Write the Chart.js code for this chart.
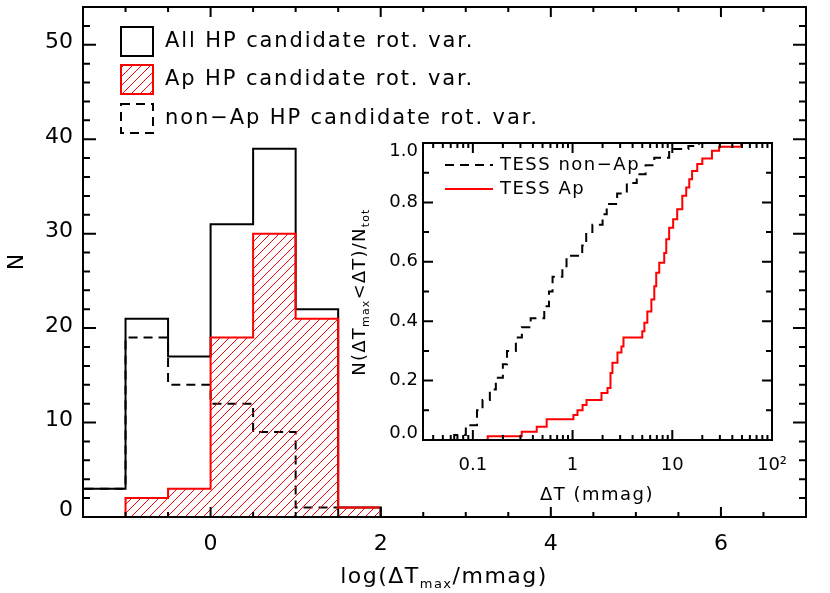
<!DOCTYPE html>
<html>
<head>
<meta charset="utf-8">
<script src="https://cdn.jsdelivr.net/npm/chart.js@4.4.1/dist/chart.umd.min.js"></script>
<style>
html, body { margin: 0; padding: 0; background: #fff; }
#wrap { position: relative; width: 830px; height: 593px; }
#wrap canvas { position: absolute; left: 0; top: 0; }
</style>
</head>
<body>
<div id="wrap">
  <canvas id="mainChart" width="830" height="593"></canvas>
  <canvas id="insetChart" width="830" height="593"></canvas>
</div>
<script>
// --- Histogram data: log(dT_max/mmag), bins of 0.5 ---
const binEdges = [-1.5, -1.0, -0.5, 0.0, 0.5, 1.0, 1.5, 2.0];
const allCounts = [3, 21, 17, 31, 39, 22, 1];
const apCounts = [0, 2, 3, 19, 30, 21, 1];
const nonApCounts = [3, 19, 14, 12, 9, 1, 0];
const xTicksMain = [0, 2, 4, 6];
const yTicksMain = [0, 10, 20, 30, 40, 50];

// --- Inset: cumulative fractions vs dT (mmag) ---
const nonApDT = [0.065, 0.085, 0.11, 0.125, 0.148, 0.17, 0.20, 0.22, 0.27, 0.31, 0.38, 0.52, 0.58, 0.63,
                 0.79, 0.87, 1.25, 1.37, 1.58, 2.0, 2.2, 2.8, 3.5, 4.4, 5.4, 6.6, 9.3, 14.5, 18.5];
const nonApFrac = [0.017, 0.05, 0.10, 0.135, 0.17, 0.21, 0.255, 0.30, 0.345, 0.38, 0.41, 0.45, 0.50, 0.55,
                   0.585, 0.62, 0.655, 0.70, 0.725, 0.76, 0.795, 0.83, 0.865, 0.895, 0.925, 0.95, 0.98, 0.99, 1.0];
const apDT = [0.141, 0.309, 0.437, 0.55, 1.02, 1.12, 1.26, 1.38, 1.95, 2.24, 2.40, 2.51, 2.82, 3.09, 3.24,
              5.0, 5.25, 5.62, 6.17, 6.6, 6.9, 7.4, 8.3, 8.7, 9.3, 10.2, 11.2, 12.6, 13.8, 14.8, 15.8,
              17.8, 20, 25, 29.5, 49];
const apFrac = [0.013, 0.028, 0.045, 0.07, 0.084, 0.10, 0.118, 0.135, 0.158, 0.175, 0.226, 0.26, 0.295, 0.315, 0.345,
                0.366, 0.395, 0.433, 0.473, 0.518, 0.563, 0.597, 0.63, 0.676, 0.715, 0.743, 0.777, 0.822, 0.85, 0.878, 0.906,
                0.929, 0.948, 0.974, 0.987, 1.0];
const xTicksInset = [0.1, 1, 10, 100];
const xTickLabelsInset = ['0.1', '1', '10', '10\u00B2'];
const yTicksInset = [0, 0.2, 0.4, 0.6, 0.8, 1.0];

const FONT = "'DejaVu Sans', sans-serif";
const RED = '#ff0000';

// --- helpers ---
function makeHatch(ctx) {
    const c = document.createElement('canvas');
    c.width = 9; c.height = 9;
    const g = c.getContext('2d');
    g.strokeStyle = RED; g.lineWidth = 1;
    g.beginPath();
    g.moveTo(-1, 10); g.lineTo(10, -1);
    g.moveTo(-2, 2); g.lineTo(2, -2);
    g.moveTo(7, 11); g.lineTo(11, 7);
    g.stroke();
    return ctx.createPattern(c, 'repeat');
}

function histPoints(counts, first, last, dropEnd) {
    const pts = [{x: binEdges[first], y: 0}];
    for (let i = first; i <= last; i++) pts.push({x: binEdges[i], y: counts[i]});
    pts.push({x: binEdges[last + 1], y: counts[last]});
    if (dropEnd) pts.push({x: binEdges[last + 1], y: 0});
    return pts;
}

function cdfPoints(dt, frac) {
    const pts = [{x: dt[0], y: 0}];
    dt.forEach((v, i) => pts.push({x: v, y: frac[i]}));
    return pts;
}

// text made of pieces [text, size, dy] so subscripts work
function drawParts(ctx, parts, x, y, align, spacing) {
    ctx.letterSpacing = spacing + 'px';
    let w = 0;
    parts.forEach(p => { ctx.font = p[1] + 'px ' + FONT; w += ctx.measureText(p[0]).width; });
    let cx = align === 'center' ? x - w / 2 : x;
    parts.forEach(p => {
        ctx.font = p[1] + 'px ' + FONT;
        ctx.fillText(p[0], cx, y + p[2]);
        cx += ctx.measureText(p[0]).width;
    });
}

// IDL style frame: box with inward ticks on all four sides, y labels kept inside the box height
function drawFrame(chart, t) {
    const {ctx, chartArea: a} = chart;
    const xs = chart.scales.x, ys = chart.scales.y;
    ctx.save();
    ctx.strokeStyle = '#000';
    ctx.lineWidth = 2;
    ctx.beginPath();
    const xTick = (v, len) => {
        const px = xs.getPixelForValue(v);
        if (px < a.left - 0.5 || px > a.right + 0.5) return;
        ctx.moveTo(px, a.bottom); ctx.lineTo(px, a.bottom - len);
        ctx.moveTo(px, a.top); ctx.lineTo(px, a.top + len);
    };
    const yTick = (v, len) => {
        const py = ys.getPixelForValue(v);
        if (py < a.top - 0.5 || py > a.bottom + 0.5) return;
        ctx.moveTo(a.left, py); ctx.lineTo(a.left + len, py);
        ctx.moveTo(a.right, py); ctx.lineTo(a.right - len, py);
    };
    t.xMinor.forEach(v => xTick(v, t.xMinLen));
    t.xMajor.forEach(v => xTick(v, t.xMajLen));
    t.yMinor.forEach(v => yTick(v, t.yMinLen));
    t.yMajor.forEach(v => yTick(v, t.yMajLen));
    ctx.stroke();
    ctx.strokeRect(a.left, a.top, a.right - a.left, a.bottom - a.top);

    ctx.fillStyle = '#000';
    ctx.font = t.labelSize + 'px ' + FONT;
    ctx.textAlign = 'right';
    ctx.textBaseline = 'middle';
    t.yMajor.forEach((v, i) => {
        let py = ys.getPixelForValue(v) + t.labelShift;
        py = Math.max(a.top + t.clampTop, Math.min(a.bottom - t.clampBottom, py));
        ctx.fillText(t.yLabels[i], a.left - t.labelPad, py);
    });
    ctx.restore();
}

// --- main histogram ---
const mainCtx = document.getElementById('mainChart').getContext('2d');
const hatch = makeHatch(mainCtx);

const xMinorMain = [];
for (let v = -1.5; v <= 7; v += 0.5) xMinorMain.push(v);
const yMinorMain = [];
for (let v = 0; v <= 54; v += 2) yMinorMain.push(v);

const mainDecor = {
    id: 'mainDecor',
    afterDraw(chart) {
        drawFrame(chart, {xMajor: xTicksMain, xMinor: xMinorMain, yMajor: yTicksMain, yMinor: yMinorMain,
                          xMajLen: 10, xMinLen: 5, yMajLen: 13, yMinLen: 7,
                          yLabels: yTicksMain.map(String), labelSize: 22, labelPad: 10,
                          labelShift: -2, clampTop: 0, clampBottom: 7});
        const ctx = chart.ctx;
        ctx.save();
        ctx.fillStyle = '#000';
        ctx.textBaseline = 'alphabetic';
        ctx.textAlign = 'left';
        // x title
        drawParts(ctx, [['log(\u0394T', 22, 0], ['max', 13, 5], ['/mmag)', 22, 0]], 444, 583, 'center', 1.5);
        // y title
        ctx.save();
        ctx.translate(23, 262);
        ctx.rotate(-Math.PI / 2);
        drawParts(ctx, [['N', 22, 0]], 0, 0, 'center', 0);
        ctx.restore();

        // legend
        ctx.lineWidth = 2;
        ctx.strokeStyle = '#000';
        ctx.setLineDash([]);
        ctx.strokeRect(121, 27, 32, 29);
        ctx.fillStyle = hatch;
        ctx.fillRect(121, 65, 32, 29);
        ctx.strokeStyle = RED;
        ctx.strokeRect(121, 65, 32, 29);
        ctx.strokeStyle = '#000';
        ctx.setLineDash([9, 6]);
        ctx.strokeRect(121, 104, 32, 29);
        ctx.setLineDash([]);
        ctx.fillStyle = '#000';
        ctx.textBaseline = 'middle';
        const labels = ['All HP candidate rot. var.', 'Ap HP candidate rot. var.', 'non\u2212Ap HP candidate rot. var.'];
        const rows = [42, 80, 119];
        labels.forEach((s, i) => drawParts(ctx, [[s, 21, 0]], 165, rows[i], 'left', 1.9));
        ctx.restore();
    }
};

new Chart(mainCtx, {
    type: 'line',
    data: {
        datasets: [
            {label: 'Ap HP candidate rot. var.', data: histPoints(apCounts, 1, 6, false), stepped: true,
             borderColor: RED, borderWidth: 2, backgroundColor: hatch, fill: 'origin', pointRadius: 0},
            {label: 'All HP candidate rot. var.', data: histPoints(allCounts, 0, 6, true), stepped: true,
             borderColor: '#000', borderWidth: 2, fill: false, pointRadius: 0},
            {label: 'non-Ap HP candidate rot. var.', data: histPoints(nonApCounts, 0, 5, true), stepped: true,
             borderColor: '#000', borderWidth: 2, borderDash: [9, 6], fill: false, pointRadius: 0}
        ]
    },
    options: {
        responsive: false,
        animation: false,
        events: [],
        layout: {padding: {left: 0, top: 7, right: 24, bottom: 0}},
        plugins: {legend: {display: false}, tooltip: {enabled: false}},
        scales: {
            x: {
                type: 'linear', min: -1.5, max: 7,
                afterBuildTicks: s => { s.ticks = xTicksMain.map(v => ({value: v})); },
                afterFit: s => { s.height = 76; },
                grid: {display: false, drawTicks: false},
                border: {display: false},
                ticks: {color: '#000', font: {family: FONT, size: 22}, padding: 14, maxRotation: 0}
            },
            y: {
                type: 'linear', min: 0, max: 54,
                afterBuildTicks: s => { s.ticks = yTicksMain.map(v => ({value: v})); },
                afterFit: s => { s.width = 83; },
                grid: {display: false, drawTicks: false},
                border: {display: false},
                ticks: {display: false}
            }
        }
    },
    plugins: [mainDecor]
});

// --- inset cumulative distributions ---
const xMinorInset = [];
[0.01, 0.1, 1, 10].forEach(d => { for (let k = 2; k <= 9; k++) xMinorInset.push(k * d); });
const yMinorInset = [];
for (let v = 0; v <= 1.0001; v += 0.1) yMinorInset.push(v);

const insetDecor = {
    id: 'insetDecor',
    afterDraw(chart) {
        drawFrame(chart, {xMajor: xTicksInset, xMinor: xMinorInset, yMajor: yTicksInset, yMinor: yMinorInset,
                          xMajLen: 10, xMinLen: 5, yMajLen: 10, yMinLen: 6,
                          yLabels: yTicksInset.map(v => v.toFixed(1)), labelSize: 18, labelPad: 5,
                          labelShift: 0, clampTop: 8, clampBottom: 7});
        const ctx = chart.ctx;
        ctx.save();
        ctx.fillStyle = '#000';
        ctx.textAlign = 'left';
        ctx.textBaseline = 'alphabetic';
        drawParts(ctx, [['\u0394T (mmag)', 18, 0]], 597, 500, 'center', 1.5);
        ctx.save();
        ctx.translate(365, 292);
        ctx.rotate(-Math.PI / 2);
        drawParts(ctx, [['N(\u0394T', 18, 0], ['max', 11, 4], ['<\u0394T)/N', 18, 0], ['tot', 11, 4]], 0, 0, 'center', 1.2);
        ctx.restore();

        // legend
        ctx.lineWidth = 2;
        ctx.strokeStyle = '#000';
        ctx.setLineDash([9, 6]);
        ctx.beginPath(); ctx.moveTo(445, 165); ctx.lineTo(493, 165); ctx.stroke();
        ctx.setLineDash([]);
        ctx.strokeStyle = RED;
        ctx.beginPath(); ctx.moveTo(445, 189); ctx.lineTo(493, 189); ctx.stroke();
        ctx.textBaseline = 'middle';
        drawParts(ctx, [['TESS non\u2212Ap', 18, 0]], 500, 165, 'left', 1.5);
        drawParts(ctx, [['TESS Ap', 18, 0]], 500, 189, 'left', 1.5);
        ctx.restore();
    }
};

new Chart(document.getElementById('insetChart').getContext('2d'), {
    type: 'line',
    data: {
        datasets: [
            {label: 'TESS Ap', data: cdfPoints(apDT, apFrac), stepped: true,
             borderColor: RED, borderWidth: 2, fill: false, pointRadius: 0},
            {label: 'TESS non-Ap', data: cdfPoints(nonApDT, nonApFrac), stepped: true,
             borderColor: '#000', borderWidth: 2, borderDash: [9, 6], fill: false, pointRadius: 0}
        ]
    },
    options: {
        responsive: false,
        animation: false,
        events: [],
        layout: {padding: {left: 373, top: 143, right: 58, bottom: 113}},
        plugins: {legend: {display: false}, tooltip: {enabled: false}},
        scales: {
            x: {
                type: 'logarithmic', min: Math.pow(10, -1.5), max: 100,
                afterBuildTicks: s => { s.ticks = xTicksInset.map(v => ({value: v})); },
                afterFit: s => { s.height = 40; },
                grid: {display: false, drawTicks: false},
                border: {display: false},
                ticks: {color: '#000', font: {family: FONT, size: 18}, padding: 15, maxRotation: 0,
                        callback: (v, i) => xTickLabelsInset[i]}
            },
            y: {
                type: 'linear', min: 0, max: 1,
                afterBuildTicks: s => { s.ticks = yTicksInset.map(v => ({value: v})); },
                afterFit: s => { s.width = 50; },
                grid: {display: false, drawTicks: false},
                border: {display: false},
                ticks: {display: false}
            }
        }
    },
    plugins: [insetDecor]
});
</script>
</body>
</html>
